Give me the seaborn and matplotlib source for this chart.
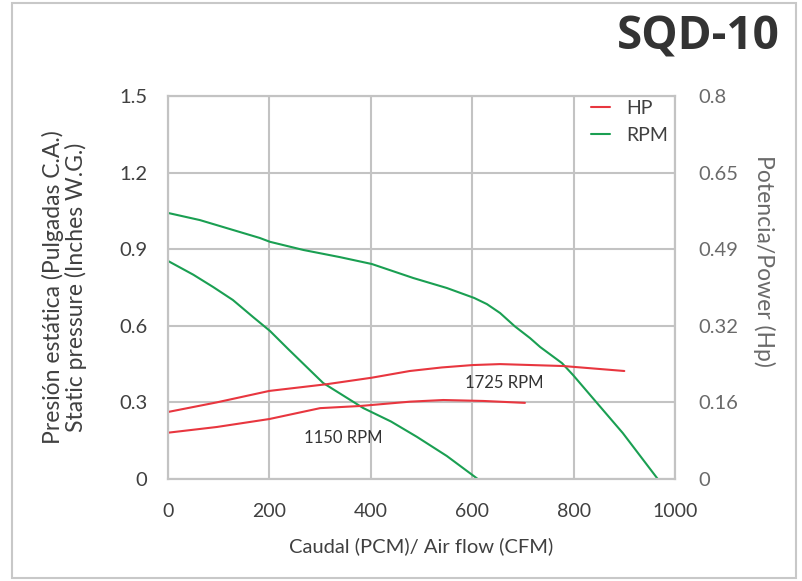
import numpy as np
import pandas as pd
import matplotlib
matplotlib.use('Agg')
import matplotlib.pyplot as plt
import seaborn as sns
from matplotlib.lines import Line2D
from matplotlib.patches import Rectangle

# curvas de presion (RPM), eje izquierdo
rpm_1725_cfm = [0, 63, 122, 181, 201, 267, 339, 402, 484, 550, 604, 629, 655, 684,
                714, 734, 777, 799, 846, 897, 966]
rpm_1725_sp = [1.042, 1.014, 0.979, 0.944, 0.929, 0.897, 0.869, 0.842, 0.787, 0.748, 0.709,
               0.685, 0.65, 0.598, 0.552, 0.517, 0.454, 0.407, 0.298, 0.18, 0.0]
rpm_1150_cfm = [0, 50, 89, 128, 168, 201, 237, 306, 385, 440, 491, 550, 611]
rpm_1150_sp = [0.854, 0.80, 0.752, 0.701, 0.634, 0.580, 0.509, 0.376, 0.278, 0.225, 0.165, 0.09, 0.0]

# curvas de potencia (HP), eje derecho
hp_1725_cfm = [0, 96, 200, 313, 402, 477, 540, 601, 655, 779, 900]
hp_1725_hp = [0.140, 0.16, 0.184, 0.198, 0.2116, 0.2256, 0.233, 0.238, 0.240, 0.236, 0.2256]
hp_1150_cfm = [0, 96, 200, 300, 379, 477, 543, 622, 704]
hp_1150_hp = [0.0967, 0.1086, 0.1253, 0.148, 0.1525, 0.1615, 0.165, 0.163, 0.159]

x_ticks = [0, 200, 400, 600, 800, 1000]
y_ticks = [0, 0.3, 0.6, 0.9, 1.2, 1.5]
y_labels = ['0', '0.3', '0.6', '0.9', '1.2', '1.5']
y2_ticks = [0, 0.16, 0.32, 0.48, 0.64, 0.8]
y2_labels = ['0', '0.16', '0.32', '0.49', '0.65', '0.8']

RED = '#e8363f'
GREEN = '#1a9f52'
GRID = '#c3c3c3'

sns.set_theme(style="white")
plt.rcParams['font.family'] = ['Lato', 'DejaVu Sans']

fig = plt.figure(figsize=(8.03, 5.81), dpi=100)
ax = fig.add_axes([168 / 803, 1 - 479 / 581, (675 - 168) / 803, (479 - 96) / 581])
ax2 = ax.twinx()

sns.lineplot(x=rpm_1725_cfm, y=rpm_1725_sp, color=GREEN, linewidth=1.5, ax=ax)
sns.lineplot(x=rpm_1150_cfm, y=rpm_1150_sp, color=GREEN, linewidth=1.5, ax=ax)
sns.lineplot(x=hp_1725_cfm, y=hp_1725_hp, color=RED, linewidth=1.5, ax=ax2)
sns.lineplot(x=hp_1150_cfm, y=hp_1150_hp, color=RED, linewidth=1.5, ax=ax2)

ax.set_xlim(0, 1000)
ax.set_ylim(0, 1.5)
ax2.set_ylim(0, 0.8)
ax.set_xticks(x_ticks)
ax.set_yticks(y_ticks)
ax.set_yticklabels(y_labels)
ax2.set_yticks(y2_ticks)
ax2.set_yticklabels(y2_labels)

ax.grid(True, color=GRID, linewidth=1.5)
ax.set_axisbelow(True)
for a in (ax, ax2):
    for s in a.spines.values():
        s.set_color(GRID)
        s.set_linewidth(1.5)
    a.tick_params(length=0)

ax.tick_params(axis='x', labelsize=14, labelcolor='#404040', pad=17)
ax.tick_params(axis='y', labelsize=14.5, labelcolor='#404040', pad=15)
ax2.tick_params(axis='y', labelsize=14.5, labelcolor='#6a6a6a', pad=17)

ax.set_xlabel('Caudal (PCM)/ Air flow (CFM)', fontsize=14.5, color='#404040', labelpad=13)
ax.set_ylabel('Presión estática (Pulgadas C.A.)\nStatic pressure (Inches W.G.)',
              fontsize=16.5, color='#404040', linespacing=1.05)
ax.yaxis.set_label_coords(-0.16, 0.5)
ax2.set_ylabel('Potencia/Power (Hp)', fontsize=16.5, color='#6a6a6a', rotation=270, va='center')
ax2.yaxis.set_label_coords(1.175, 0.57)

ax.text(663, 0.376, '1725 RPM', fontsize=12, color='#333333', ha='center', va='center')
ax.text(345, 0.16, '1150 RPM', fontsize=12, color='#333333', ha='center', va='center')

handles = [Line2D([0], [0], color=RED, lw=1.5), Line2D([0], [0], color=GREEN, lw=1.5)]
ax.legend(handles, ['HP', 'RPM'], loc='upper right', frameon=False, fontsize=14,
          handlelength=1.0, handletextpad=0.8, labelspacing=0.5,
          bbox_to_anchor=(1.02, 1.035), labelcolor='#404040')

fig.text(780 / 803, 1 - 37 / 581, 'SQD-10', fontsize=33, fontweight='bold',
         color='#333333', ha='right', va='center', family=['Open Sans', 'DejaVu Sans'])

fig.patches.append(Rectangle((12 / 803, 3 / 581), (796 - 12) / 803, (578 - 3) / 581,
                             transform=fig.transFigure, fill=False,
                             edgecolor='#c8c8c8', linewidth=1.5))

fig.savefig('out.png', dpi=100)
